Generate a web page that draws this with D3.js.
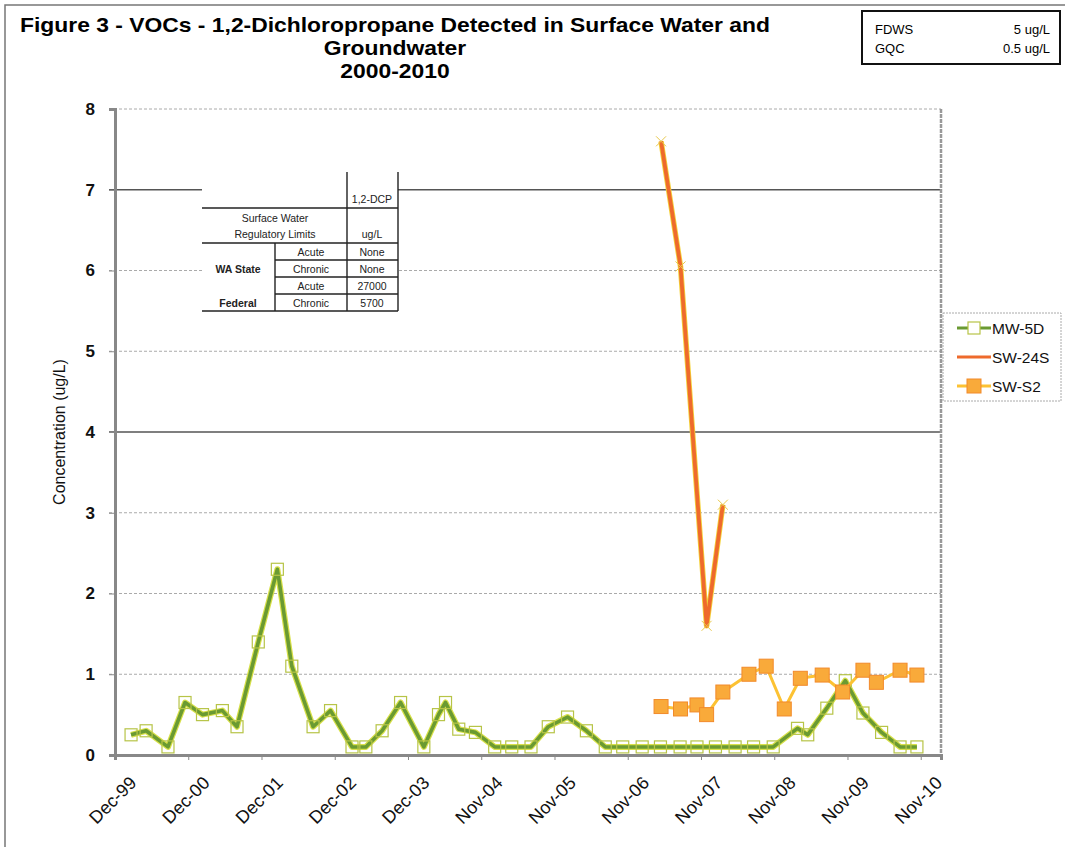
<!DOCTYPE html>
<html>
<head>
<meta charset="utf-8">
<script src="https://cdn.jsdelivr.net/npm/d3@7"></script>
<style>
  body { margin: 0; background: #fff; }
  text { font-family: "Liberation Sans", Arial, sans-serif; }
</style>
</head>
<body>
<svg width="1065" height="847"></svg>
<script>
// ---- data ----
var xTickDates = ["1999-12-02", "2000-12-01", "2001-12-01", "2002-12-01", "2003-12-01", "2004-11-30",
  "2005-11-30", "2006-11-30", "2007-11-30", "2008-11-29", "2009-11-29", "2010-11-29"];
var xTickLabels = ["Dec-99", "Dec-00", "Dec-01", "Dec-02", "Dec-03", "Nov-04",
  "Nov-05", "Nov-06", "Nov-07", "Nov-08", "Nov-09", "Nov-10"];
var yTicks = [0, 1, 2, 3, 4, 5, 6, 7, 8];

var mw5dDates = ["2000-02-20", "2000-05-05", "2000-08-22", "2000-11-15", "2001-02-10", "2001-05-20",
  "2001-08-01", "2001-11-15", "2002-02-18", "2002-05-01", "2002-08-15", "2002-11-10", "2003-02-25",
  "2003-05-05", "2003-07-25", "2003-10-25", "2004-02-18", "2004-05-01", "2004-06-05", "2004-08-10",
  "2004-11-01", "2005-02-05", "2005-05-01", "2005-08-05", "2005-10-30", "2006-02-03", "2006-05-08",
  "2006-08-10", "2006-11-05", "2007-02-10", "2007-05-12", "2007-08-18", "2007-11-10", "2008-02-10",
  "2008-05-18", "2008-08-18", "2008-11-24", "2009-03-25", "2009-05-15", "2009-08-18", "2009-11-18",
  "2010-02-14", "2010-05-18", "2010-08-18", "2010-11-10"];
var mw5dValues = [0.25, 0.3, 0.1, 0.65, 0.5, 0.55,
  0.35, 1.4, 2.3, 1.1, 0.35, 0.55, 0.1,
  0.1, 0.3, 0.65, 0.1, 0.5, 0.65, 0.32,
  0.28, 0.1, 0.1, 0.1, 0.35, 0.47, 0.3,
  0.1, 0.1, 0.1, 0.1, 0.1, 0.1, 0.1,
  0.1, 0.1, 0.1, 0.33, 0.25, 0.58, 0.92,
  0.52, 0.28, 0.1, 0.1];

var sw24sDates = ["2007-05-15", "2007-08-20", "2007-12-28", "2008-03-18"];
var sw24sValues = [7.6, 6.05, 1.6, 3.1];

var sws2Dates = ["2007-05-15", "2007-08-20", "2007-11-10", "2007-12-28", "2008-03-18", "2008-07-26",
  "2008-10-20", "2009-01-18", "2009-04-08", "2009-07-26", "2009-11-05", "2010-02-14", "2010-04-22",
  "2010-08-18", "2010-11-10"];
var sws2Values = [0.6, 0.57, 0.62, 0.5, 0.78, 1.0, 1.1, 0.57, 0.95, 0.99, 0.78, 1.05, 0.9, 1.05, 0.99];

var seriesNames = ["MW-5D", "SW-24S", "SW-S2"];
var titleLines = ["Figure 3 - VOCs - 1,2-Dichloropropane Detected in Surface Water and", "Groundwater", "2000-2010"];
var limitRows = [["FDWS", "5 ug/L"], ["GQC", "0.5 ug/L"]];

var parse = d3.timeParse("%Y-%m-%d");
function zip(dates, vals) { return dates.map(function (d, i) { return { date: parse(d), value: vals[i] }; }); }
var mw5d = zip(mw5dDates, mw5dValues);
var sw24s = zip(sw24sDates, sw24sValues);
var sws2 = zip(sws2Dates, sws2Values);

var svg = d3.select("svg");

// outer frame
svg.append("rect").attr("x", 5).attr("y", 5).attr("width", 1070).attr("height", 850)
  .attr("fill", "none").attr("stroke", "#777").attr("stroke-width", 1.5);

var x = d3.scaleTime().domain([parse("1999-12-02"), parse("2011-03-10")]).range([115, 941]);
var y = d3.scaleLinear().domain([0, 8]).range([755, 109]);

// title (condensed bold, like the scanned original)
var title = svg.append("g").selectAll("text").data(titleLines).enter().append("text")
  .attr("x", 395).attr("y", function (d, i) { return 32 + i * 23; })
  .attr("text-anchor", "middle").attr("font-size", 20.5).attr("font-weight", "bold")
  .text(function (d) { return d; });
var squeeze = 750 / title.nodes()[0].getComputedTextLength();
title.attr("lengthAdjust", "spacingAndGlyphs")
  .attr("textLength", function () { return this.getComputedTextLength() * squeeze; });

// limits box
var lim = svg.append("g");
lim.append("rect").attr("x", 862).attr("y", 11).attr("width", 198).attr("height", 53)
  .attr("fill", "#fff").attr("stroke", "#111").attr("stroke-width", 2);
lim.selectAll(".k").data(limitRows).enter().append("text")
  .attr("x", 875).attr("y", function (d, i) { return 34 + i * 19; })
  .attr("font-family", "Lato, sans-serif").attr("font-size", 13).text(function (d) { return d[0]; });
lim.selectAll(".v").data(limitRows).enter().append("text")
  .attr("x", 1050).attr("y", function (d, i) { return 34 + i * 19; }).attr("text-anchor", "end")
  .attr("font-family", "Lato, sans-serif").attr("font-size", 13).text(function (d) { return d[1]; });

// gridlines
svg.append("g").selectAll("line").data(yTicks.filter(function (d) { return d > 0; })).enter().append("line")
  .attr("x1", 109).attr("x2", 941)
  .attr("y1", function (d) { return y(d); }).attr("y2", function (d) { return y(d); })
  .attr("stroke", function (d) { return (d == 4 || d == 7) ? "#555" : "#aaa"; })
  .attr("stroke-width", function (d) { return (d == 4 || d == 7) ? 1.3 : 1; })
  .attr("stroke-dasharray", function (d) { return (d == 4 || d == 7) ? null : "3,2"; });

// right border of plot
svg.append("line").attr("x1", 941).attr("x2", 941).attr("y1", y(8)).attr("y2", y(0))
  .attr("stroke", "#999").attr("stroke-width", 2.5).attr("stroke-dasharray", "4,1");

// axes
var yAxis = svg.append("g").attr("transform", "translate(115,0)")
  .call(d3.axisLeft(y).tickValues(yTicks).tickSize(6).tickPadding(14));
yAxis.select(".domain").attr("stroke", "#888").attr("stroke-width", 3);
yAxis.selectAll(".tick line").attr("stroke", "#888");
yAxis.selectAll(".tick text").attr("font-family", "'DejaVu Sans', Verdana, sans-serif")
  .attr("font-weight", "bold").attr("font-size", 17).attr("fill", "#111");

var xAxis = svg.append("g").attr("transform", "translate(0," + y(0) + ")")
  .call(d3.axisBottom(x).tickValues(xTickDates.map(parse)).tickSize(5)
    .tickFormat(function (d, i) { return xTickLabels[i]; }));
xAxis.select(".domain").attr("stroke", "#888").attr("stroke-width", 3);
xAxis.selectAll(".tick line").attr("stroke", "#888");
xAxis.selectAll(".tick text")
  .attr("font-size", 18).attr("fill", "#111").attr("text-anchor", "end")
  .attr("dy", 0).attr("y", 0)
  .attr("transform", "translate(22,29) rotate(-45)");

svg.append("text").attr("transform", "translate(65,432) rotate(-90)")
  .attr("text-anchor", "middle").attr("font-size", 16).attr("fill", "#111")
  .text("Concentration (ug/L)");

// inset regulatory table
var tbl = svg.append("g");
tbl.append("rect").attr("x", 202).attr("y", 172).attr("width", 196).attr("height", 140).attr("fill", "#fff");
var tl = [
  [347, 172, 347, 311], [398, 172, 398, 311], [202, 208, 398, 208], [202, 243, 398, 243],
  [275, 243, 275, 311], [275, 260, 398, 260], [275, 277, 398, 277], [275, 294, 398, 294], [202, 311, 398, 311]
];
tbl.selectAll("line").data(tl).enter().append("line")
  .attr("x1", function (d) { return d[0]; }).attr("y1", function (d) { return d[1]; })
  .attr("x2", function (d) { return d[2]; }).attr("y2", function (d) { return d[3]; })
  .attr("stroke", "#222").attr("stroke-width", 1.4);
var tt = [
  [372, 203, "1,2-DCP", "normal"], [275, 222, "Surface Water", "normal"], [275, 238, "Regulatory Limits", "normal"],
  [372, 238, "ug/L", "normal"], [311, 256, "Acute", "normal"], [311, 273, "Chronic", "normal"],
  [311, 290, "Acute", "normal"], [311, 307, "Chronic", "normal"], [372, 256, "None", "normal"],
  [372, 273, "None", "normal"], [372, 290, "27000", "normal"], [372, 307, "5700", "normal"],
  [238, 273, "WA State", "bold"], [238, 307, "Federal", "bold"]
];
tbl.selectAll("text").data(tt).enter().append("text")
  .attr("x", function (d) { return d[0]; }).attr("y", function (d) { return d[1]; })
  .attr("text-anchor", "middle").attr("font-size", 10.5).attr("font-weight", function (d) { return d[3]; })
  .attr("fill", "#222").text(function (d) { return d[2]; });

// series
var line = d3.line().x(function (d) { return x(d.date); }).y(function (d) { return y(d.value); });

// MW-5D
svg.append("path").datum(mw5d).attr("d", line).attr("fill", "none")
  .attr("stroke", "#d8e04a").attr("stroke-width", 6).attr("stroke-linejoin", "round");
svg.append("path").datum(mw5d).attr("d", line).attr("fill", "none")
  .attr("stroke", "#6a9a32").attr("stroke-width", 3.6).attr("stroke-linejoin", "round");
svg.append("g").selectAll("rect").data(mw5d).enter().append("rect")
  .attr("x", function (d) { return x(d.date) - 6; }).attr("y", function (d) { return y(d.value) - 6; })
  .attr("width", 12).attr("height", 12).attr("fill", "none")
  .attr("stroke", "#b7c447").attr("stroke-width", 1.2);

// SW-S2
svg.append("path").datum(sws2).attr("d", line).attr("fill", "none")
  .attr("stroke", "#fcc233").attr("stroke-width", 3).attr("stroke-linejoin", "round");
svg.append("g").selectAll("rect").data(sws2).enter().append("rect")
  .attr("x", function (d) { return x(d.date) - 7; }).attr("y", function (d) { return y(d.value) - 7; })
  .attr("width", 14).attr("height", 14).attr("fill", "#f9aa3a")
  .attr("stroke", "#f28a2a").attr("stroke-width", 1);

// SW-24S
svg.append("path").datum(sw24s).attr("d", line).attr("fill", "none")
  .attr("stroke", "#f4d23a").attr("stroke-width", 5.5).attr("stroke-linejoin", "round");
svg.append("path").datum(sw24s).attr("d", line).attr("fill", "none")
  .attr("stroke", "#ee6a2c").attr("stroke-width", 3.8).attr("stroke-linejoin", "round");
svg.append("g").selectAll("path").data(sw24s).enter().append("path")
  .attr("d", function (d) {
    var cx = x(d.date), cy = y(d.value);
    return "M" + (cx - 5) + "," + (cy - 5) + "L" + (cx + 5) + "," + (cy + 5) +
      "M" + (cx - 5) + "," + (cy + 5) + "L" + (cx + 5) + "," + (cy - 5);
  })
  .attr("stroke", "#e8c84a").attr("stroke-width", 1);

// legend
var lg = svg.append("g");
lg.append("rect").attr("x", 943).attr("y", 313).attr("width", 118).attr("height", 88)
  .attr("fill", "#fff").attr("stroke", "#aaa").attr("stroke-dasharray", "2,1");
var li = lg.selectAll("g").data(seriesNames).enter().append("g")
  .attr("transform", function (d, i) { return "translate(0," + (328 + i * 29) + ")"; });
li.append("line").attr("x1", 957).attr("x2", 991).attr("y1", 0).attr("y2", 0)
  .attr("stroke", function (d, i) { return ["#6a9a32", "#ee6a2c", "#fcc233"][i]; })
  .attr("stroke-width", 3.2);
li.filter(function (d, i) { return i == 0; }).append("rect")
  .attr("x", 968).attr("y", -6).attr("width", 12).attr("height", 12)
  .attr("fill", "#fff").attr("stroke", "#b7c447").attr("stroke-width", 1.2);
li.filter(function (d, i) { return i == 2; }).append("rect")
  .attr("x", 967).attr("y", -7).attr("width", 14).attr("height", 14)
  .attr("fill", "#f9aa3a").attr("stroke", "#f28a2a");
li.append("text").attr("x", 992).attr("y", 6).attr("font-size", 15.5).attr("fill", "#111")
  .text(function (d) { return d; });
</script>
</body>
</html>
